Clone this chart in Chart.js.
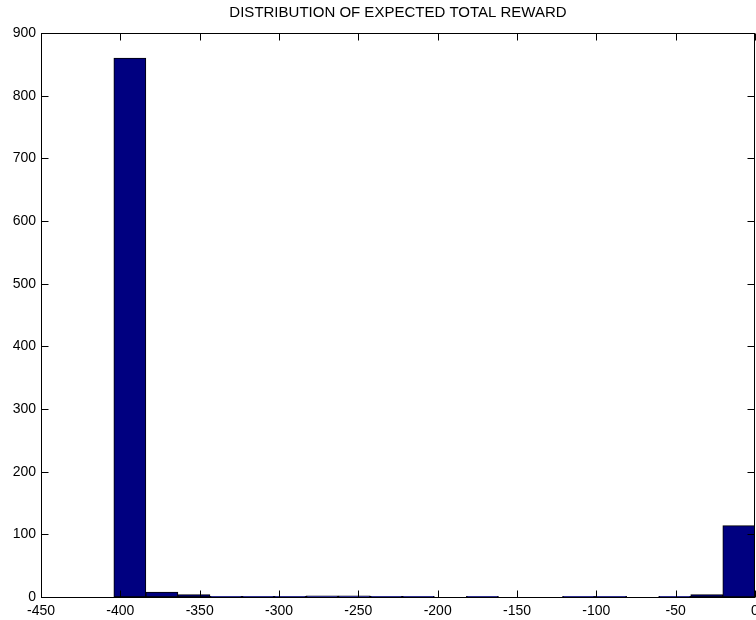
<!DOCTYPE html>
<html>
<head>
<meta charset="utf-8">
<script src="https://cdn.jsdelivr.net/npm/chart.js@4/dist/chart.umd.min.js"></script>
<style>
  html, body { margin: 0; padding: 0; background: #fff; overflow: hidden; }
  canvas { display: block; }
</style>
</head>
<body>
<canvas id="c" width="756" height="620"></canvas>
<script>
// Histogram of expected total reward: 20 bins, centres and counts
const binCenters = [-394, -373.8, -353.6, -333.4, -313.2, -293, -272.8, -252.6, -232.4, -212.2,
                    -192, -171.8, -151.6, -131.4, -111.2, -91, -70.8, -50.6, -30.4, -10.2];
const counts = [860, 8, 4, 1, 1, 1, 2, 2, 1, 1,
                0, 1, 0, 0, 1, 1, 0, 1, 4, 114];
const xTicks = [-450, -400, -350, -300, -250, -200, -150, -100, -50, 0];
const yTicks = [0, 100, 200, 300, 400, 500, 600, 700, 800, 900];
const titleText = 'DISTRIBUTION OF EXPECTED TOTAL REWARD';

const FONT = 'Liberation Sans, Arial, Helvetica, sans-serif';

// Box around the axes with inward-pointing tick marks on all four sides
const boxAxes = {
  id: 'boxAxes',
  afterDatasetsDraw(chart) {
    const { ctx, chartArea: a, scales: { x, y } } = chart;
    const L = Math.round(a.left) + 0.5, R = Math.round(a.right) - 0.5;
    const T = Math.round(a.top) + 0.5, B = Math.round(a.bottom) + 0.5;
    const len = 7;
    ctx.save();
    ctx.strokeStyle = '#000';
    ctx.lineWidth = 1;
    ctx.beginPath();
    xTicks.forEach(v => {
      const px = Math.round(x.getPixelForValue(v)) + 0.5;
      ctx.moveTo(px, B); ctx.lineTo(px, B - len);
      ctx.moveTo(px, T); ctx.lineTo(px, T + len);
    });
    yTicks.forEach(v => {
      const py = Math.round(y.getPixelForValue(v)) + 0.5;
      ctx.moveTo(L, py); ctx.lineTo(L + len, py);
      ctx.moveTo(R, py); ctx.lineTo(R - len, py);
    });
    ctx.stroke();
    ctx.strokeRect(L, T, R - L, B - T);
    ctx.restore();
  }
};

new Chart(document.getElementById('c'), {
  type: 'bar',
  data: {
    datasets: [{
      data: binCenters.map((c, i) => ({ x: c, y: counts[i] })),
      backgroundColor: '#000080',
      borderColor: '#000000',
      borderWidth: 1,
      borderSkipped: false,
      barPercentage: 1.0,
      categoryPercentage: 1.0
    }]
  },
  options: {
    responsive: false,
    animation: false,
    devicePixelRatio: 1,
    layout: { padding: { left: 0, right: 1, top: 0, bottom: 0 } },
    plugins: {
      legend: { display: false },
      tooltip: { enabled: false },
      title: {
        display: true,
        fullSize: false,
        text: titleText,
        color: '#000',
        font: { family: FONT, size: 15, weight: 'normal' },
        padding: { top: 4, bottom: 11 }
      }
    },
    scales: {
      x: {
        type: 'linear',
        min: -450,
        max: 0,
        offset: false,
        grid: { display: false, drawTicks: false },
        border: { display: false },
        afterBuildTicks(s) { s.ticks = xTicks.map(v => ({ value: v })); },
        afterFit(s) { s.height = 23; s.paddingLeft = 0; s.paddingRight = 0; },
        ticks: {
          color: '#000',
          font: { family: FONT, size: 14 },
          padding: 6,
          maxRotation: 0,
          autoSkip: false
        }
      },
      y: {
        min: 0,
        max: 900,
        grid: { display: false, drawTicks: false },
        border: { display: false },
        afterBuildTicks(s) { s.ticks = yTicks.map(v => ({ value: v })); },
        afterFit(s) { s.width = 41; s.paddingTop = 0; s.paddingBottom = 0; },
        ticks: {
          color: '#000',
          font: { family: FONT, size: 14 },
          padding: 5,
          autoSkip: false
        }
      }
    }
  },
  plugins: [boxAxes]
});
</script>
</body>
</html>
